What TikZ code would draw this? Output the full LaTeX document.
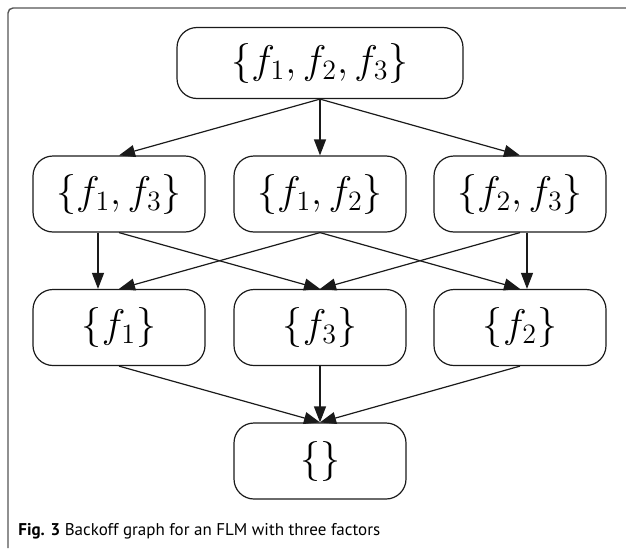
\documentclass[tikz,border=0pt]{standalone}
\usepackage{fix-cm}
\usepackage{amsmath, amssymb}
\usepackage{fontspec}
\setsansfont{PT Sans}
\usepackage{tikz}
\usetikzlibrary{arrows.meta, positioning}
\definecolor{darktext}{HTML}{1A1A1A}
\definecolor{framegray}{HTML}{555555}

\begin{document}
\begin{tikzpicture}[x=0.5pt, y=0.5pt,
            fset/.style={draw=darktext, rounded corners=10pt, line width=0.6pt, minimum width=86pt, minimum height=38pt, inner sep=0pt, font=\fontsize{20}{24}\selectfont},
            edge/.style={draw=darktext, line width=0.6pt, -{Triangle[length=8pt, width=6pt]}}]
            \useasboundingbox (0,0) rectangle (626,548);
            % frame of the figure box
            \draw[framegray, line width=0.7pt, rounded corners=2.5pt] (8,0) -- (8,540) -- (626,540);
            \node[fset, minimum width=143pt, minimum height=35.5pt] (f123) at (320,485) {$\{f_1, f_2, f_3\}$};
            \node[fset] (f13) at (119,354) {$\{f_1, f_3\}$};
            \node[fset] (f12) at (320,354) {$\{f_1, f_2\}$};
            \node[fset] (f23) at (520,354) {$\{f_2, f_3\}$};
            \node[fset] (f1) at (119,220.5) {$\{f_1\}$};
            \node[fset] (f3) at (320,220.5) {$\{f_3\}$};
            \node[fset] (f2) at (520,220.5) {$\{f_2\}$};
            \node[fset] (empty) at (320,87) {$\{\}$};
            \foreach \a/\b in {f123/f13,f123/f12,f123/f23,f13/f3,f12/f1,f12/f2,f23/f3,f1/empty,f3/empty,f2/empty} {
                \draw[edge] (\a.south) -- (\b.north);
            }
            \draw[edge] ([xshift=-10.5pt]f13.south) -- ([xshift=-10.5pt]f1.north);
            \draw[edge] ([xshift=3.5pt]f23.south) -- ([xshift=3.5pt]f2.north);
            \node[anchor=base west, inner sep=0pt, font=\sffamily\fontsize{8.5}{10}\selectfont] (caption) at (18,13) {\textbf{Fig. 3} Backoff graph for an FLM with three factors};
        \end{tikzpicture}
\end{document}
